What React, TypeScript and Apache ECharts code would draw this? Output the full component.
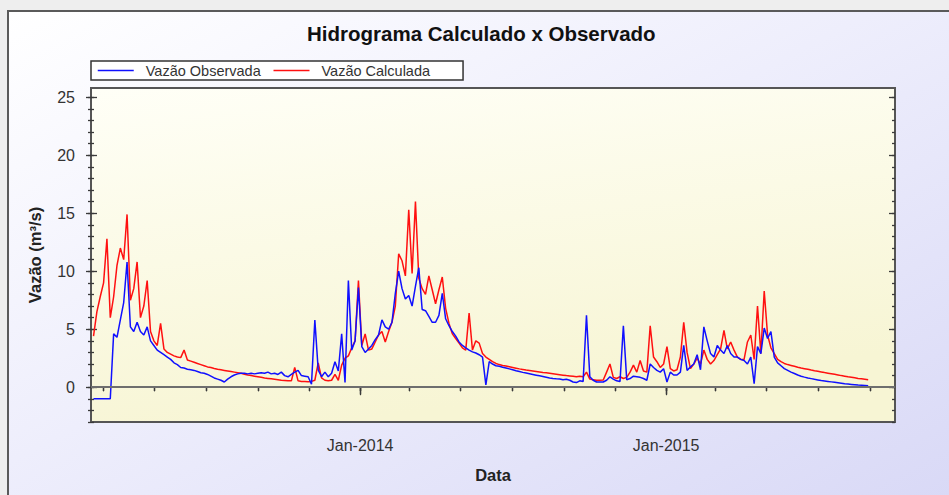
import React, { useEffect, useRef } from "react";
import * as echarts from "echarts";

// ---- data ----
const SERIES_NAMES = ["Vazão Observada", "Vazão Calculada"];
const START_DATE = [2013, 1, 17]; // first daily sample shown (year, month0, day)
const STEP_DAYS = 4;
const AXIS_MIN_DATE = [2013, 1, 14];
const AXIS_MAX_DATE = [2015, 9, 1];
const X_TICK_MONTHS = [
  [2013, 2], [2013, 4], [2013, 6], [2013, 8], [2013, 10],
  [2014, 0], [2014, 2], [2014, 4], [2014, 6], [2014, 8], [2014, 10],
  [2015, 0], [2015, 2], [2015, 4], [2015, 6], [2015, 8],
];
const X_LABEL_MONTHS = [[2014, 0], [2015, 0]];
const Y_LABELS = [0, 5, 10, 15, 20, 25];
const Y_MINOR = [-3, -2, -1, 0, 1, 2, 3, 4, 5, 6, 7, 8, 9, 10, 11, 12, 13, 14, 15, 16, 17, 18, 19, 20, 21, 22, 23, 24, 25];
const Y_MIN = -3;
const Y_MAX = 25.8;

const observed = [
  -1, -1, -1, -1, -1, -1, 4.6, 4.3, 5.8, 7.3,
  10.8, 5.2, 4.8, 5.6, 4.8, 4.5, 5.2, 4.0, 3.6, 3.2,
  3.0, 2.8, 2.6, 2.4, 2.1, 1.95, 1.7, 1.65, 1.55, 1.5,
  1.45, 1.35, 1.25, 1.2, 1.1, 0.95, 0.8, 0.7, 0.6, 0.45,
  0.7, 0.9, 1.05, 1.15, 1.2, 1.2, 1.15, 1.2, 1.15, 1.2,
  1.25, 1.2, 1.3, 1.15, 1.2, 1.1, 1.3, 1.0, 0.9, 1.1,
  1.3, 1.45, 1.0, 0.95, 0.9, 0.25, 5.8, 1.5, 0.9, 1.3,
  0.9, 1.2, 2.2, 1.4, 4.6, 0.4, 9.2, 3.2, 4.0, 8.6,
  3.5, 3.0, 3.3, 3.6, 4.1, 4.5, 5.8, 5.2, 5.0, 5.6,
  8.1, 10.0, 8.5, 7.6, 7.9, 7.0, 8.7, 10.3, 6.7, 6.6,
  6.1, 5.6, 5.6, 6.2, 8.1, 5.9, 5.3, 4.8, 4.4, 3.9,
  3.6, 3.4, 3.2, 3.05, 2.95, 2.8, 2.6, 0.2, 2.2, 2.0,
  1.85, 1.8, 1.72, 1.65, 1.58, 1.5, 1.42, 1.35, 1.28, 1.22,
  1.16, 1.1, 1.04, 0.98, 0.92, 0.86, 0.8, 0.75, 0.72, 0.7,
  0.65, 0.68, 0.6, 0.45, 0.4, 0.55, 0.5, 6.2, 0.9, 0.6,
  0.45, 0.45, 0.45, 0.6, 0.9, 0.7, 0.55, 0.5, 5.3, 0.65,
  0.75, 0.95, 0.9, 0.85, 0.75, 0.6, 2.0, 1.7, 1.45, 1.3,
  1.6, 0.45, 1.3, 1.05, 1.05, 1.3, 3.6, 1.45, 1.75, 2.0,
  2.8, 1.5, 5.2, 4.0, 2.9, 2.6, 3.6, 3.2, 2.9, 3.6,
  2.9, 2.6, 2.6, 2.4, 2.3, 2.0, 2.6, 0.3, 3.5, 2.9,
  5.1, 4.2, 4.8, 2.6, 2.1, 1.85, 1.6, 1.45, 1.3, 1.18,
  1.05, 0.95, 0.87, 0.8, 0.74, 0.68, 0.63, 0.58, 0.54, 0.5,
  0.46, 0.42, 0.38, 0.34, 0.3, 0.27, 0.24, 0.21, 0.18, 0.16,
  0.14, 0.12,
];

const calculated = [
  4.4, 6.5, 7.8, 9.0, 12.8, 6.0, 7.8, 10.5, 12.0, 11.0,
  14.9, 7.5, 8.5, 10.8, 6.0, 7.0, 9.2, 4.8, 4.0, 3.6,
  5.5, 3.3, 3.0, 2.85, 2.7, 2.6, 2.55, 3.2, 2.35, 2.25,
  2.15, 2.05, 1.95, 1.85, 1.75, 1.7, 1.62, 1.55, 1.5, 1.45,
  1.4, 1.35, 1.3, 1.25, 1.2, 1.12, 1.05, 1.0, 0.95, 0.9,
  0.85, 0.8, 0.76, 0.72, 0.68, 0.64, 0.6, 0.58, 0.56, 0.55,
  1.7, 0.55, 0.5, 0.5, 0.48, 0.5, 0.6, 2.1, 0.8, 0.6,
  0.55, 0.6, 1.1, 0.6, 1.9, 2.5, 2.7, 3.4, 4.0, 9.2,
  3.6, 4.6, 3.2, 3.3, 3.9, 4.5, 4.8, 3.9, 4.8, 5.6,
  7.0, 11.5, 10.9, 9.6, 15.3, 9.8, 16.0, 9.4, 8.5, 8.0,
  9.6, 8.4, 7.2, 8.4, 9.5, 6.8, 5.5, 4.6, 4.2, 3.8,
  3.4, 3.2, 6.4, 3.2, 4.0, 3.8, 2.9, 2.6, 2.4, 2.2,
  2.05, 1.95, 1.88, 1.82, 1.76, 1.7, 1.64, 1.58, 1.53, 1.48,
  1.44, 1.4, 1.36, 1.32, 1.27, 1.24, 1.2, 1.16, 1.12, 1.08,
  1.04, 1.0, 0.97, 0.94, 0.9, 0.95, 0.9, 1.3, 0.7, 0.65,
  0.6, 0.6, 0.62, 1.3, 2.0, 0.85, 0.75, 0.9, 0.75, 0.85,
  1.3, 1.9, 1.3, 2.3, 1.4, 1.3, 5.3, 2.6, 2.2, 1.7,
  2.0, 3.5, 1.6, 1.4, 1.5, 2.6, 5.6, 3.0, 1.6, 2.0,
  2.5, 2.0, 3.2, 2.4, 2.0, 2.3, 2.8, 3.3, 4.9, 3.3,
  3.9, 3.2, 2.6, 2.4, 2.4, 3.9, 4.5, 2.4, 7.0, 2.9,
  8.3, 4.5, 3.4, 2.9, 2.4, 2.2, 2.05, 1.95, 1.88, 1.8,
  1.72, 1.65, 1.6, 1.55, 1.48, 1.42, 1.37, 1.32, 1.26, 1.21,
  1.16, 1.11, 1.06, 1.0, 0.95, 0.9, 0.86, 0.81, 0.76, 0.72,
  0.68, 0.64,
];

const FONT = "'Liberation Sans', Arial, sans-serif";
const MONTHS = ["Jan", "Feb", "Mar", "Apr", "May", "Jun", "Jul", "Aug", "Sep", "Oct", "Nov", "Dec"];

function ts(y: number, m: number, d: number) {
  return new Date(y, m, d).getTime();
}

export default function App() {
  const ref = useRef<HTMLDivElement>(null);

  useEffect(() => {
    if (!ref.current) return;
    const chart = echarts.init(ref.current, null, { renderer: "svg" });

    const toSeries = (vals: number[]) =>
      vals.map((v, i) => [ts(START_DATE[0], START_DATE[1], START_DATE[2] + STEP_DAYS * i), v]);
    const tickTs = X_TICK_MONTHS.map(([y, m]) => ts(y, m, 1));
    const labelTs = X_LABEL_MONTHS.map(([y, m]) => ts(y, m, 1));
    const xMin = ts(AXIS_MIN_DATE[0], AXIS_MIN_DATE[1], AXIS_MIN_DATE[2]);
    const xMax = ts(AXIS_MAX_DATE[0], AXIS_MAX_DATE[1], AXIS_MAX_DATE[2]);

    const tickColor = "#3a3a3a";
    const xBase = (position: string, inside: boolean, values: number[], len: number) => ({
      type: "value",
      position,
      min: xMin,
      max: xMax,
      axisLine: { show: false },
      splitLine: { show: false },
      axisLabel: { show: false },
      axisTick: {
        show: true,
        inside,
        length: len,
        customValues: values,
        lineStyle: { color: tickColor, width: 1.3 },
      },
    });
    const yBase = (position: string, inside: boolean, values: number[], len: number) => ({
      type: "value",
      position,
      min: Y_MIN,
      max: Y_MAX,
      axisLine: { show: false },
      splitLine: { show: false },
      axisLabel: { show: false },
      axisTick: {
        show: true,
        inside,
        length: len,
        customValues: values,
        lineStyle: { color: tickColor, width: 1.3 },
      },
    });

    const x0: any = xBase("bottom", false, labelTs, 8);
    x0.axisLabel = {
      show: true,
      customValues: labelTs,
      margin: 15,
      fontFamily: FONT,
      fontSize: 16,
      color: "#333",
      formatter: (v: number) => {
        const d = new Date(v);
        return MONTHS[d.getMonth()] + "-" + d.getFullYear();
      },
    };
    x0.name = "Data";
    x0.nameLocation = "middle";
    x0.nameGap = 44;
    x0.nameTextStyle = { fontFamily: FONT, fontSize: 16.5, fontWeight: "bold", color: "#222" };

    const y0: any = yBase("left", false, Y_LABELS, 5);
    y0.axisLabel = {
      show: true,
      customValues: Y_LABELS,
      margin: 16,
      fontFamily: FONT,
      fontSize: 16,
      color: "#333",
    };
    y0.name = "Vazão (m³/s)";
    y0.nameLocation = "middle";
    y0.nameGap = 48;
    y0.nameTextStyle = { fontFamily: FONT, fontSize: 16.5, fontWeight: "bold", color: "#222" };

    const option: any = {
      animation: false,
      backgroundColor: "transparent",
      title: {
        text: "Hidrograma Calculado x Observado",
        left: 307,
        top: 23,
        padding: 0,
        textStyle: { fontFamily: FONT, fontSize: 20.5, fontWeight: "bold", color: "#111" },
      },
      legend: {
        left: 91,
        top: 61,
        orient: "horizontal",
        backgroundColor: "#ffffff",
        borderColor: "#333",
        borderWidth: 1.5,
        borderRadius: 0,
        padding: [2, 33, 2, 6],
        itemWidth: 36,
        itemHeight: 14,
        itemGap: 12,
        selectedMode: false,
        itemStyle: { opacity: 0, borderWidth: 0 },
        lineStyle: { width: 1.5 },
        textStyle: { fontFamily: FONT, fontSize: 14.5, color: "#333", lineHeight: 14, padding: [0, 0, 0, 7] },
        data: SERIES_NAMES,
      },
      grid: {
        left: 91,
        right: 54,
        top: 88,
        bottom: 73,
        show: true,
        borderColor: "#555",
        borderWidth: 2,
        backgroundColor: new echarts.graphic.LinearGradient(0, 0, 0.3, 1, [
          { offset: 0, color: "#fffff7" },
          { offset: 1, color: "#f7f5d4" },
        ]),
      },
      xAxis: [
        x0,
        xBase("bottom", false, tickTs, 4),
        xBase("top", true, tickTs, 4),
        xBase("top", true, labelTs, 7),
      ],
      yAxis: [
        y0,
        yBase("left", true, Y_LABELS, 6),
        yBase("left", false, Y_MINOR, 3),
        yBase("left", true, Y_MINOR, 3),
        yBase("right", true, Y_LABELS, 6),
        yBase("right", true, Y_MINOR, 3),
      ],
      series: [
        {
          name: SERIES_NAMES[0],
          type: "line",
          xAxisIndex: 0,
          yAxisIndex: 0,
          symbol: "none",
          z: 4,
          lineStyle: { color: "#1010ff", width: 1.5 },
          itemStyle: { color: "#1010ff" },
          emphasis: { disabled: true },
          data: toSeries(observed),
          markLine: {
            silent: true,
            symbol: ["none", "none"],
            label: { show: false },
            lineStyle: { color: "#6e6e6e", width: 2, type: "solid" },
            data: [{ yAxis: 0 }],
          },
        },
        {
          name: SERIES_NAMES[1],
          type: "line",
          xAxisIndex: 0,
          yAxisIndex: 0,
          symbol: "none",
          z: 3,
          lineStyle: { color: "#ff1010", width: 1.5 },
          itemStyle: { color: "#ff1010" },
          emphasis: { disabled: true },
          data: toSeries(calculated),
        },
      ],
    };

    chart.setOption(option);
    return () => chart.dispose();
  }, []);

  return (
    <div
      style={{
        position: "fixed",
        left: 0,
        top: 0,
        width: 949,
        height: 495,
        overflow: "hidden",
        background: "#eeeeee",
      }}
    >
      <div
        style={{
          position: "absolute",
          left: 7,
          top: 10,
          width: 960,
          height: 500,
          borderLeft: "2px solid #5a5a5a",
          borderTop: "2px solid #5a5a5a",
          background: "linear-gradient(to bottom right, #ffffff 0%, #eeeefc 45%, #d8d8f6 100%)",
        }}
      />
      <div ref={ref} style={{ position: "absolute", left: 0, top: 0, width: 949, height: 495 }} />
    </div>
  );
}
